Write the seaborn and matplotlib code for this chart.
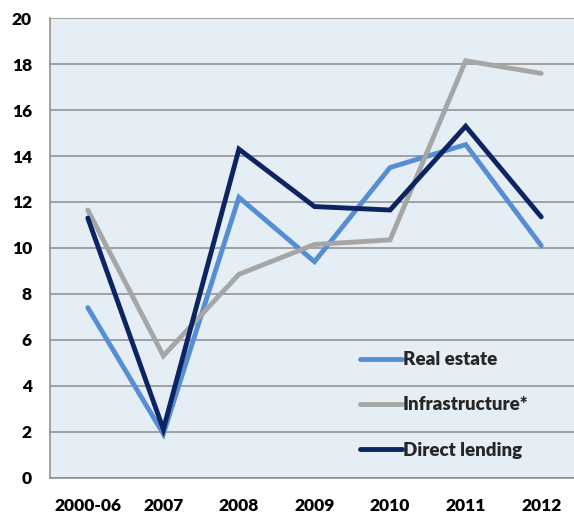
import pandas as pd
import numpy as np
import matplotlib.pyplot as plt
import seaborn as sns

# data
years = ['2000-06', '2007', '2008', '2009', '2010', '2011', '2012']
real_estate = [7.4, 1.9, 12.2, 9.4, 13.5, 14.5, 10.1]
infrastructure = [11.65, 5.3, 8.85, 10.15, 10.35, 18.15, 17.6]
direct_lending = [11.3, 2.1, 14.3, 11.8, 11.65, 15.3, 11.35]

series_names = ['Real estate', 'Infrastructure*', 'Direct lending']
colors = ['#558ed5', '#a6a6a6', '#0c2461']

sns.set_style('white')
plt.rcParams['font.family'] = ['Lato', 'DejaVu Sans']
plt.rcParams['font.weight'] = 'heavy'

rows = []
for name, vals in zip(series_names, [real_estate, infrastructure, direct_lending]):
    for i, v in enumerate(vals):
        rows.append({'pos': i, 'year': years[i], 'value': v, 'series': name})
df = pd.DataFrame(rows)

fig = plt.figure(figsize=(5.74, 5.14), dpi=100)
ax = fig.add_axes([50 / 574, 36.5 / 514, 529 / 574, 459.2 / 514])
ax.set_facecolor('#e5eef4')

sns.lineplot(data=df, x='pos', y='value', hue='series', hue_order=series_names,
             palette=colors, linewidth=3.5, ax=ax, legend=True)
for line in ax.lines:
    line.set_solid_capstyle('round')
    line.set_solid_joinstyle('miter')

ax.set_xlim(-0.5, len(years) - 0.5)
ax.set_ylim(0, 20)
ax.set_yticks(np.arange(0, 21, 2))
ax.set_xticks(range(len(years)))
ax.set_xticklabels(years)
ax.set_xticks(np.arange(-0.5, len(years), 1.0), minor=True)
ax.grid(axis='y', color='#8c8c8c', linewidth=1.1)
ax.set_axisbelow(True)
ax.set_xlabel('')
ax.set_ylabel('')

for s in ['top', 'right']:
    ax.spines[s].set_visible(False)
for s in ['left', 'bottom']:
    ax.spines[s].set_color('#8c8c8c')
    ax.spines[s].set_linewidth(1.1)

ax.tick_params(axis='y', length=5, width=1.1, color='#8c8c8c', pad=8,
               labelsize=12.5, labelcolor='black')
ax.tick_params(axis='x', which='major', length=0, pad=15, labelsize=12.5,
               labelcolor='black')
ax.tick_params(axis='x', which='minor', length=5, width=1.1, color='#8c8c8c')
for lab in ax.get_xticklabels() + ax.get_yticklabels():
    lab.set_fontweight('heavy')

handles, labels = ax.get_legend_handles_labels()
leg = ax.legend(handles, labels, loc='upper left', frameon=False,
                bbox_to_anchor=(351 / 574, 1 - 342 / 514),
                bbox_transform=fig.transFigure, handlelength=2.2,
                handletextpad=0.05, labelspacing=1.5, borderpad=0,
                prop={'weight': 'heavy', 'size': 13.5})
for h in leg.get_lines():
    h.set_linewidth(3.5)
    h.set_solid_capstyle('round')

fig.savefig('out.png', dpi=100)
